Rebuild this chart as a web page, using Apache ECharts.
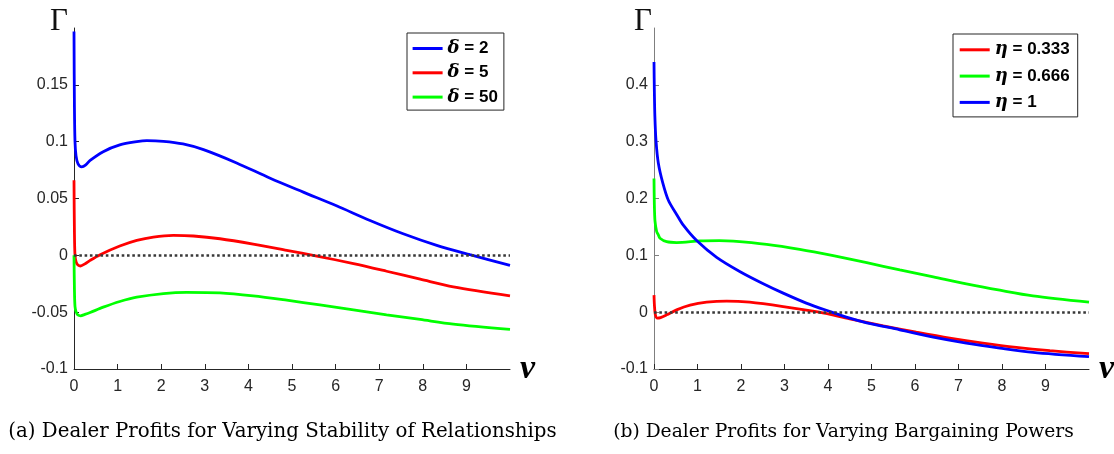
<!DOCTYPE html>
<html>
<head>
<meta charset="utf-8">
<script src="https://cdn.jsdelivr.net/npm/echarts@6/dist/echarts.min.js"></script>
<style>
html, body { margin: 0; padding: 0; background: #fff; }
#chart { width: 1114px; height: 454px; }
</style>
</head>
<body>
<div id="chart"></div>
<script>
// (a) varying delta
const nuD2 = [0, 0.01, 0.023, 0.046, 0.09, 0.177, 0.27, 0.37, 0.67, 1.05, 1.44, 1.67, 2.05, 2.5, 2.97, 3.73, 4.5, 5.26, 6.02, 6.79, 7.55, 8.32, 9.08, 10];
const gD2 = [0.197, 0.13, 0.1, 0.0877, 0.0807, 0.0778, 0.0795, 0.0835, 0.0912, 0.0971, 0.1, 0.1009, 0.1003, 0.098, 0.093, 0.0813, 0.0678, 0.0556, 0.0436, 0.0307, 0.019, 0.0088, 0.0006, -0.0088];
const nuD5 = [0, 0.01, 0.023, 0.05, 0.09, 0.15, 0.25, 0.37, 0.6, 1.05, 1.44, 1.82, 2.28, 2.74, 3.35, 4.11, 4.88, 5.57, 6.41, 7.17, 7.94, 8.7, 10];
const gD5 = [0.066, 0.02, 0.0, -0.006, -0.0085, -0.0094, -0.0075, -0.0044, 0.0006, 0.0082, 0.0132, 0.0161, 0.0175, 0.017, 0.0146, 0.0099, 0.0044, -0.0006, -0.0073, -0.014, -0.021, -0.0278, -0.0357];
const nuD50 = [0, 0.01, 0.023, 0.05, 0.09, 0.15, 0.25, 0.37, 0.67, 1.05, 1.44, 2.05, 2.58, 3.35, 4.11, 4.88, 5.64, 6.41, 7.17, 7.94, 8.7, 10];
const gD50 = [0, -0.03, -0.045, -0.05, -0.0525, -0.0532, -0.052, -0.0503, -0.0456, -0.0406, -0.0368, -0.0336, -0.0325, -0.033, -0.0357, -0.0395, -0.0436, -0.048, -0.0523, -0.0564, -0.0605, -0.0652];

// (b) varying eta
const nuE1 = [0, 0.01, 0.03, 0.077, 0.15, 0.29, 0.52, 0.83, 1.21, 1.67, 2.2, 2.97, 3.8, 4.5, 5.27, 6.03, 6.8, 7.56, 8.33, 9.1, 10];
const gE1 = [0.03, 0.012, -0.004, -0.0105, -0.0095, -0.0047, 0.0041, 0.0123, 0.0175, 0.0195, 0.0175, 0.0099, 0, -0.0117, -0.024, -0.0351, -0.0456, -0.0544, -0.062, -0.0678, -0.073];
const nuE2 = [0, 0.008, 0.023, 0.061, 0.1, 0.138, 0.29, 0.52, 1.06, 1.5, 1.82, 2.59, 3.35, 4.12, 4.89, 5.65, 6.42, 7.18, 7.95, 8.71, 10];
const gE2 = [0.235, 0.19, 0.16, 0.142, 0.136, 0.13, 0.124, 0.1225, 0.1255, 0.126, 0.1251, 0.1193, 0.1105, 0.0994, 0.0871, 0.0743, 0.062, 0.0497, 0.0386, 0.0287, 0.0175];
const nuE3 = [0, 0.008, 0.02, 0.046, 0.1, 0.2, 0.33, 0.52, 0.674, 0.98, 1.44, 1.98, 2.5, 2.97, 3.5, 4.05, 4.5, 4.89, 5.65, 6.42, 7.18, 7.95, 8.71, 10];
const gE3 = [0.44, 0.39, 0.345, 0.302, 0.262, 0.228, 0.197, 0.172, 0.153, 0.126, 0.0965, 0.0712, 0.0505, 0.0335, 0.016, 0.001, -0.0105, -0.0187, -0.031, -0.0439, -0.0544, -0.0632, -0.0708, -0.0784];

const xTicks = [0, 1, 2, 3, 4, 5, 6, 7, 8, 9];
const yTicksA = [-0.1, -0.05, 0, 0.05, 0.1, 0.15];
const yTicksB = [-0.1, 0, 0.1, 0.2, 0.3, 0.4];

const namesA = ["δ = 2", "δ = 5", "δ = 50"];
const namesB = ["η = 0.333", "η = 0.666", "η = 1"];
const captionA = "(a) Dealer Profits for Varying Stability of Relationships";
const captionB = "(b) Dealer Profits for Varying Bargaining Powers";

const BLUE = "#0000ff", RED = "#ff0000", GREEN = "#00ff00";
const AXIS = "#262626";
const SANS = "Liberation Sans, Arial, sans-serif";
const SERIF = "Liberation Serif, serif";

const chart = echarts.init(document.getElementById("chart"));

function line(name, nu, g, color, idx) {
    return {
        name,
        type: "line",
        xAxisIndex: idx,
        yAxisIndex: idx,
        data: nu.map((x, i) => [x, g[i]]),
        symbol: "none",
        showSymbol: false,
        smooth: 0.3,
        silent: true,
        itemStyle: { color },
        lineStyle: { color, width: 2.8 },
    };
}

// dotted zero line
function zeroMark() {
    return {
        silent: true,
        symbol: "none",
        label: { show: false },
        lineStyle: { color: "#383838", width: 2.7, type: [2.6, 2.7] },
        data: [{ yAxis: 0 }],
    };
}

function xAxis(idx) {
    return {
        type: "value",
        gridIndex: idx,
        min: 0,
        max: 10,
        interval: 1,
        name: "ν",
        nameLocation: "end",
        nameGap: 10,
        nameTextStyle: {
            fontFamily: SERIF, fontStyle: "italic", fontWeight: "bold",
            fontSize: 34, color: "#000", verticalAlign: "middle", padding: [6, 0, 0, 0],
        },
        axisLine: { onZero: false, lineStyle: { color: AXIS, width: 1 } },
        axisTick: { inside: true, length: 5, customValues: xTicks, lineStyle: { color: AXIS } },
        axisLabel: { customValues: xTicks, margin: 10, fontSize: 16, fontFamily: SANS, color: AXIS },
        splitLine: { show: false },
    };
}

function yAxis(idx, min, max, interval, ticks, color, pad) {
    return {
        type: "value",
        gridIndex: idx,
        min, max, interval,
        name: "Γ",
        nameLocation: "end",
        nameGap: -9,
        nameTextStyle: {
            fontFamily: SERIF, fontSize: 31, color: "#111",
            align: "right", verticalAlign: "bottom", padding: [0, pad, 0, 0],
        },
        axisLine: { onZero: false, lineStyle: { color, width: 1 } },
        axisTick: { inside: true, length: 5, customValues: ticks, lineStyle: { color } },
        axisLabel: { customValues: ticks, margin: 6, fontSize: 16, fontFamily: SANS, color: AXIS },
        splitLine: { show: false },
    };
}

function legend(names, left, top, gap, pad) {
    return {
        data: names,
        orient: "vertical",
        left, top,
        padding: pad,
        itemGap: gap,
        itemWidth: 30,
        itemHeight: 3,
        icon: "rect",
        selectedMode: false,
        borderColor: AXIS,
        borderWidth: 1,
        borderRadius: 0,
        backgroundColor: "#fff",
        formatter: (n) => `{g|${n[0]}}{t|${n.slice(1)}}`,
        textStyle: {
            rich: {
                g: { fontFamily: "DejaVu Serif, serif", fontStyle: "italic", fontWeight: "bold", fontSize: 18, lineHeight: 17, color: "#000" },
                t: { fontFamily: SANS, fontWeight: "bold", fontSize: 17, lineHeight: 17, color: "#000" },
            },
        },
    };
}

const sA = [
    line(namesA[0], nuD2, gD2, BLUE, 0),
    line(namesA[1], nuD5, gD5, RED, 0),
    line(namesA[2], nuD50, gD50, GREEN, 0),
];
sA[2].markLine = zeroMark();

const sB = [
    line(namesB[0], nuE1, gE1, RED, 1),
    line(namesB[1], nuE2, gE2, GREEN, 1),
    line(namesB[2], nuE3, gE3, BLUE, 1),
];
sB[2].markLine = zeroMark();

chart.setOption({
    animation: false,
    backgroundColor: "#fff",
    grid: [
        { left: 74, right: 604, top: 28, bottom: 85, containLabel: false, outerBoundsMode: "none" },
        { left: 654, right: 25, top: 28, bottom: 85, containLabel: false, outerBoundsMode: "none" },
    ],
    xAxis: [xAxis(0), xAxis(1)],
    yAxis: [
        yAxis(0, -0.1, 0.2, 0.05, yTicksA, AXIS, 6),
        yAxis(1, -0.1, 0.5, 0.1, yTicksB, "#7f7f7f", 2),
    ],
    legend: [
        legend(namesA, 407, 33, 6.3, [6.5, 6, 4, 5.6]),
        legend(namesB, 953, 34, 8.3, [6.8, 8, 5.5, 6.7]),
    ],
    series: [...sA, ...sB],
    graphic: [
        {
            type: "text", x: 282.5, y: 432, silent: true,
            style: { text: captionA, font: '19.8px "DejaVu Serif"', fill: "#000", align: "center", verticalAlign: "middle" },
        },
        {
            type: "text", x: 843.5, y: 432, silent: true,
            style: { text: captionB, font: '18.7px "DejaVu Serif"', fill: "#000", align: "center", verticalAlign: "middle" },
        },
    ],
});
</script>
</body>
</html>
